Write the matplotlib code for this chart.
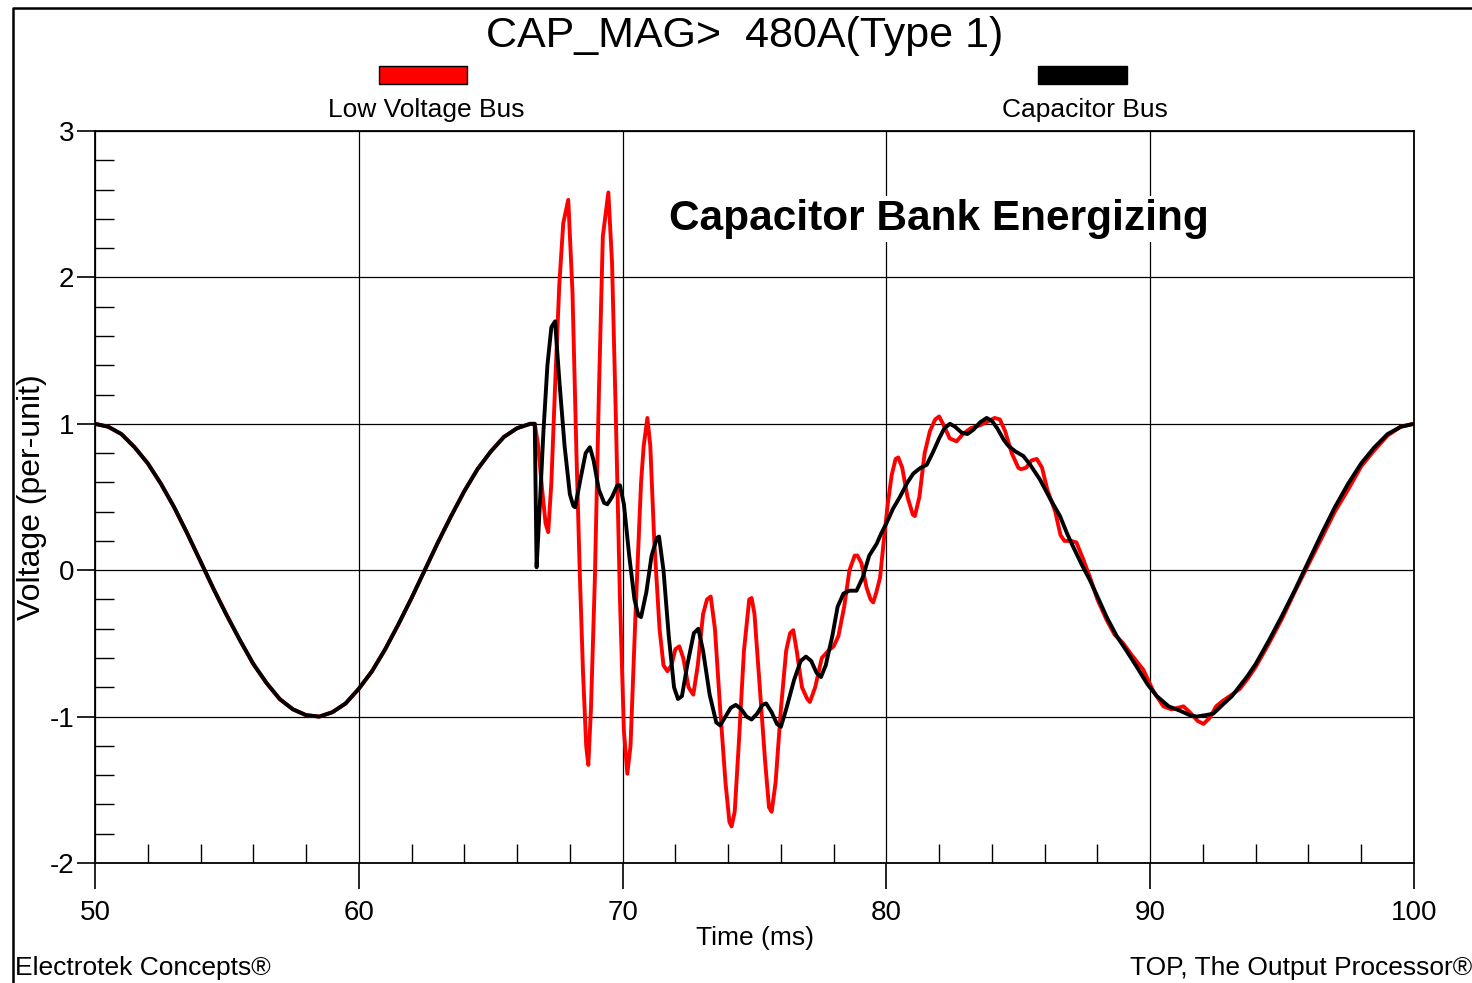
import matplotlib
matplotlib.use("Agg")
import matplotlib.pyplot as plt
from matplotlib.patches import Rectangle
from matplotlib.lines import Line2D
from matplotlib.ticker import MultipleLocator

NARROW = ['Liberation Sans Narrow', 'Liberation Sans', 'DejaVu Sans']
plt.rcParams['font.family'] = ['Liberation Sans', 'DejaVu Sans']
plt.rcParams['axes.unicode_minus'] = False

# steady state before the switch (both buses identical)
t_pre = [50.0, 50.5, 51.0, 51.5, 52.0, 52.5, 53.0, 53.5, 54.0, 54.5, 55.0, 55.5,
         56.0, 56.5, 57.0, 57.5, 58.0, 58.5, 59.0, 59.5, 60.0, 60.5, 61.0, 61.5,
         62.0, 62.5, 63.0, 63.5, 64.0, 64.5, 65.0, 65.5, 66.0, 66.5]
v_pre = [1.00, 0.98, 0.93, 0.84, 0.73, 0.59, 0.43, 0.25, 0.06, -0.13, -0.31, -0.48,
         -0.64, -0.77, -0.88, -0.95, -0.99, -1.00, -0.97, -0.91, -0.81, -0.69, -0.54, -0.37,
         -0.19, 0.00, 0.19, 0.37, 0.54, 0.69, 0.81, 0.91, 0.97, 1.00]

# Low Voltage Bus after energizing
t_lv = [66.67, 66.80, 66.95, 67.08, 67.18, 67.30, 67.45, 67.60, 67.75, 67.94,
        68.10, 68.25, 68.38, 68.50, 68.62, 68.70, 68.80, 68.95, 69.10, 69.25,
        69.46, 69.60, 69.75, 69.90, 70.05, 70.18, 70.30, 70.50, 70.70, 70.80,
        70.94, 71.05, 71.20, 71.40, 71.55, 71.70, 71.85, 72.00, 72.15, 72.30,
        72.50, 72.68, 72.85, 73.05, 73.20, 73.34, 73.50, 73.70, 73.90, 74.05,
        74.13, 74.25, 74.40, 74.60, 74.80, 74.89, 75.00, 75.20, 75.40, 75.55,
        75.65, 75.80, 76.00, 76.20, 76.35, 76.47, 76.60, 76.80, 77.00, 77.10,
        77.30, 77.55, 77.80, 78.00, 78.18, 78.40, 78.60, 78.80, 78.90, 79.05,
        79.25, 79.40, 79.50, 79.62, 79.76, 79.90, 80.05, 80.20, 80.35, 80.45,
        80.60, 80.80, 81.00, 81.08, 81.25, 81.45, 81.65, 81.85, 82.00, 82.20,
        82.40, 82.66, 82.90, 83.20, 83.55, 83.90, 84.10, 84.30, 84.50, 84.75,
        85.00, 85.10, 85.30, 85.50, 85.70, 85.90, 86.10, 86.40, 86.60, 86.75,
        87.00, 87.20, 87.45, 87.70, 88.00, 88.35, 88.65, 88.98, 89.30, 89.74,
        90.10, 90.50, 90.80, 91.05, 91.26, 91.50, 91.80, 92.02, 92.25, 92.50,
        92.77, 93.10, 93.40, 93.70, 94.00, 94.50, 95.00, 95.50, 96.00, 96.50,
        97.00, 97.50, 98.00, 98.50, 99.00, 99.50, 100.0]
v_lv = [1.00, 0.85, 0.55, 0.32, 0.26, 0.60, 1.30, 1.95, 2.37, 2.53,
        1.90, 0.80, -0.04, -0.70, -1.20, -1.33, -0.95, -0.05, 1.20, 2.28,
        2.58, 2.10, 1.00, -0.20, -1.10, -1.39, -1.20, -0.25, 0.60, 0.85,
        1.04, 0.85, 0.20, -0.40, -0.65, -0.69, -0.65, -0.54, -0.52, -0.60,
        -0.80, -0.85, -0.65, -0.30, -0.20, -0.18, -0.40, -0.95, -1.45, -1.72,
        -1.75, -1.65, -1.20, -0.55, -0.20, -0.19, -0.30, -0.80, -1.30, -1.62,
        -1.65, -1.45, -0.95, -0.55, -0.43, -0.41, -0.55, -0.80, -0.88, -0.90,
        -0.80, -0.60, -0.55, -0.52, -0.45, -0.25, 0.00, 0.10, 0.10, 0.05,
        -0.12, -0.20, -0.22, -0.15, -0.05, 0.20, 0.45, 0.65, 0.76, 0.77,
        0.70, 0.50, 0.38, 0.37, 0.50, 0.80, 0.95, 1.03, 1.05, 0.98,
        0.90, 0.88, 0.93, 0.97, 0.99, 1.02, 1.04, 1.03, 0.95, 0.80,
        0.70, 0.69, 0.70, 0.75, 0.76, 0.70, 0.55, 0.40, 0.24, 0.20,
        0.20, 0.19, 0.08, -0.04, -0.20, -0.34, -0.44, -0.50, -0.58, -0.68,
        -0.82, -0.93, -0.95, -0.94, -0.93, -0.97, -1.03, -1.05, -1.01, -0.93,
        -0.89, -0.85, -0.81, -0.74, -0.66, -0.50, -0.33, -0.14, 0.04, 0.22,
        0.40, 0.55, 0.71, 0.82, 0.92, 0.98, 1.00]

# Capacitor Bus after energizing
t_cb = [66.67, 66.74, 66.85, 67.00, 67.15, 67.30, 67.44, 67.60, 67.80, 68.00,
        68.13, 68.20, 68.40, 68.60, 68.76, 68.90, 69.10, 69.30, 69.42, 69.60,
        69.80, 69.90, 70.05, 70.25, 70.45, 70.60, 70.70, 70.90, 71.10, 71.30,
        71.38, 71.55, 71.75, 71.95, 72.10, 72.25, 72.45, 72.70, 72.87, 73.05,
        73.30, 73.55, 73.70, 73.90, 74.10, 74.29, 74.50, 74.70, 74.89, 75.10,
        75.30, 75.44, 75.65, 75.85, 76.00, 76.20, 76.50, 76.75, 76.95, 77.15,
        77.35, 77.52, 77.70, 77.95, 78.15, 78.37, 78.60, 78.87, 79.10, 79.35,
        79.63, 79.80, 80.00, 80.25, 80.51, 80.80, 81.02, 81.30, 81.53, 81.75,
        82.00, 82.20, 82.41, 82.60, 82.85, 83.07, 83.30, 83.55, 83.80, 84.00,
        84.20, 84.45, 84.62, 84.90, 85.19, 85.45, 85.82, 86.20, 86.58, 86.85,
        87.08, 87.40, 87.72, 88.00, 88.35, 88.73, 89.10, 89.49, 89.90, 90.25,
        90.70, 91.13, 91.50, 91.76, 92.10, 92.39, 92.80, 93.10, 93.40, 93.70,
        94.00, 94.50, 95.00, 95.50, 96.00, 96.50, 97.00, 97.50, 98.00, 98.50,
        99.00, 99.50, 100.0]
v_cb = [1.00, 0.02, 0.40, 0.95, 1.40, 1.66, 1.70, 1.30, 0.85, 0.52,
        0.44, 0.43, 0.62, 0.80, 0.84, 0.75, 0.55, 0.46, 0.45, 0.50,
        0.58, 0.58, 0.45, 0.10, -0.20, -0.31, -0.32, -0.15, 0.10, 0.22,
        0.23, 0.00, -0.45, -0.80, -0.88, -0.86, -0.65, -0.43, -0.40, -0.55,
        -0.85, -1.04, -1.06, -1.00, -0.94, -0.92, -0.95, -1.00, -1.02, -0.98,
        -0.92, -0.91, -0.97, -1.05, -1.07, -0.95, -0.75, -0.62, -0.59, -0.62,
        -0.70, -0.73, -0.65, -0.45, -0.25, -0.16, -0.14, -0.14, -0.05, 0.10,
        0.18, 0.25, 0.32, 0.42, 0.50, 0.60, 0.66, 0.70, 0.72, 0.80,
        0.90, 0.97, 1.00, 0.98, 0.94, 0.93, 0.96, 1.01, 1.04, 1.02,
        0.97, 0.89, 0.85, 0.81, 0.78, 0.72, 0.62, 0.49, 0.37, 0.25,
        0.16, 0.04, -0.07, -0.18, -0.32, -0.45, -0.55, -0.66, -0.78, -0.86,
        -0.93, -0.96, -0.99, -1.00, -0.99, -0.98, -0.91, -0.86, -0.79, -0.72,
        -0.64, -0.48, -0.31, -0.13, 0.06, 0.25, 0.43, 0.59, 0.73, 0.84,
        0.93, 0.98, 1.00]

fig = plt.figure(figsize=(14.72, 9.83), dpi=100)
ax = fig.add_axes([95 / 1472, 1 - 863 / 983, 1319 / 1472, 732 / 983])

ax.plot(t_pre + t_lv, v_pre + v_lv, color='#ff0000', lw=2.8, zorder=3,
        solid_joinstyle='round')
ax.plot(t_pre + t_cb, v_pre + v_cb, color='black', lw=2.8, zorder=4,
        solid_joinstyle='round')

ax.set_xlim(50, 100)
ax.set_ylim(-2, 3)
ax.xaxis.set_major_locator(MultipleLocator(10))
ax.xaxis.set_minor_locator(MultipleLocator(2))
ax.yaxis.set_major_locator(MultipleLocator(1))
ax.yaxis.set_minor_locator(MultipleLocator(0.2))
ax.grid(True, which='major', color='black', lw=0.9, zorder=1)
ax.tick_params(axis='x', which='major', direction='out', length=19, width=1.2,
               pad=8, labelsize=20)
ax.tick_params(axis='x', which='minor', direction='in', length=14, width=1.0)
ax.tick_params(axis='y', which='major', direction='out', length=13, width=1.2,
               pad=2, labelsize=20)
ax.tick_params(axis='y', which='minor', direction='in', length=14, width=1.0)
for lab in ax.get_xticklabels() + ax.get_yticklabels():
    lab.set_family(NARROW)
for s in ax.spines.values():
    s.set_linewidth(1.3)

ax.set_xlabel('Time (ms)', family=NARROW, fontsize=19, labelpad=0)
ax.set_ylabel('Voltage (per-unit)', fontsize=23, labelpad=2)

ax.text(0.4355, 0.88, 'Capacitor Bank Energizing', transform=ax.transAxes,
        fontsize=30.5, fontweight='bold', ha='left', va='center', zorder=5,
        bbox=dict(facecolor='white', edgecolor='none', pad=2))

fig.text(745 / 1472, 1 - 36 / 983, 'CAP_MAG>  480A(Type 1)', family=NARROW,
         fontsize=31, ha='center', va='center')

# legend swatches
fig.patches.append(Rectangle((379 / 1472, 1 - 84 / 983), 88 / 1472, 18 / 983,
                             transform=fig.transFigure, facecolor='#ff0000',
                             edgecolor='black', lw=1))
fig.patches.append(Rectangle((1038 / 1472, 1 - 84 / 983), 89 / 1472, 18 / 983,
                             transform=fig.transFigure, facecolor='black',
                             edgecolor='black', lw=1))
fig.text(426 / 1472, 1 - 110 / 983, 'Low Voltage Bus', family=NARROW,
         fontsize=19, ha='center', va='center')
fig.text(1085 / 1472, 1 - 110 / 983, 'Capacitor Bus', family=NARROW,
         fontsize=19, ha='center', va='center')

fig.text(15 / 1472, 1 - 968 / 983, 'Electrotek Concepts®', family=NARROW,
         fontsize=19, ha='left', va='center')
fig.text(1.0, 1 - 968 / 983, 'TOP, The Output Processor®', family=NARROW,
         fontsize=19, ha='right', va='center')

# outer frame (top and left edges)
fig.lines.append(Line2D([13 / 1472, 13 / 1472, 1.0], [0.0, 1 - 8 / 983, 1 - 8 / 983],
                        transform=fig.transFigure, color='black', lw=1.8))

fig.savefig('out.png', dpi=100)
